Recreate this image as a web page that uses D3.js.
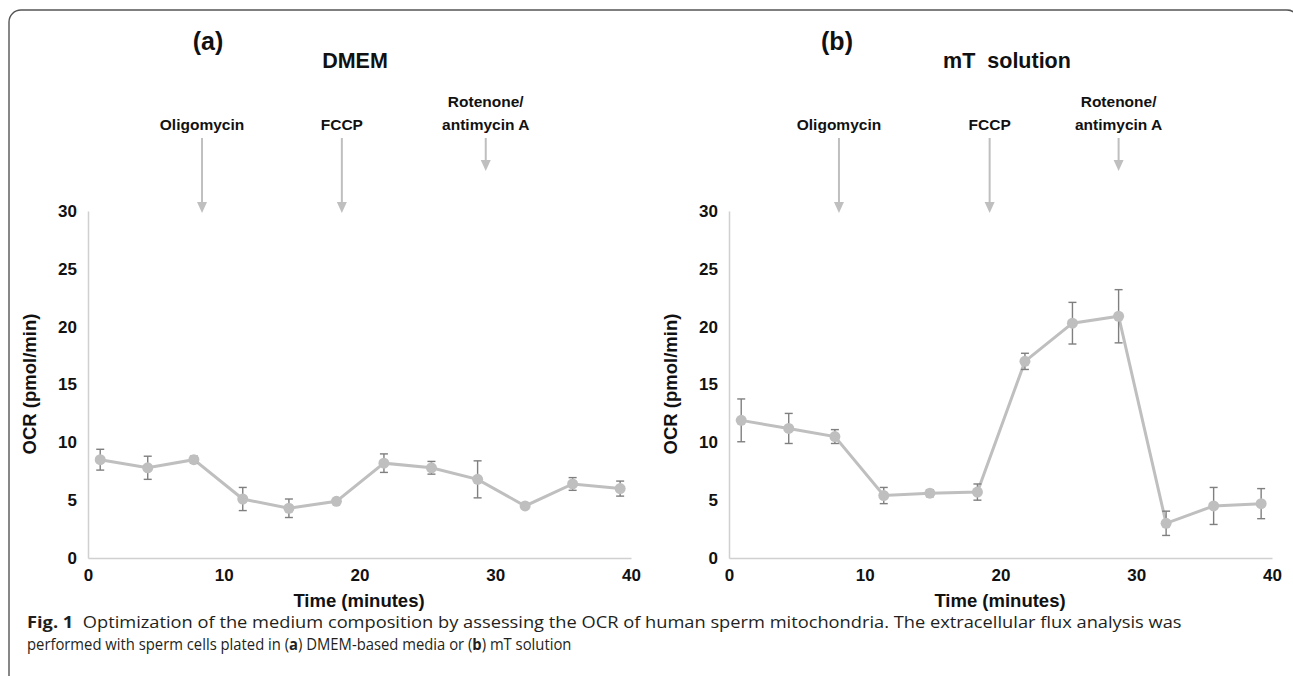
<!DOCTYPE html>
<html>
<head>
<meta charset="utf-8">
<script src="https://cdn.jsdelivr.net/npm/d3@7.9.0/dist/d3.min.js"></script>
<style>
  html, body { margin: 0; padding: 0; background: #fff; }
  svg { display: block; }
  .bold { font-family: "Liberation Sans", Arial, sans-serif; font-weight: bold; fill: #111; }
</style>
</head>
<body>
<svg id="fig" width="1293" height="676"></svg>
<script>
// time points (minutes), shared by both panels
const times = [0.9, 4.4, 7.8, 11.4, 14.8, 18.3, 21.8, 25.3, 28.7, 32.2, 35.7, 39.2];

// (a) DMEM
const dmemOcr = [8.5, 7.8, 8.5, 5.1, 4.3, 4.9, 8.2, 7.8, 6.8, 4.5, 6.4, 6.0];
const dmemErr = [0.9, 1.0, 0.3, 1.0, 0.8, 0.15, 0.8, 0.55, 1.6, 0.15, 0.55, 0.65];

// (b) mT solution
const mtOcr = [11.9, 11.2, 10.5, 5.4, 5.6, 5.7, 17.0, 20.3, 20.9, 3.0, 4.5, 4.7];
const mtErr = [1.85, 1.3, 0.6, 0.7, 0.3, 0.7, 0.7, 1.8, 2.3, 1.05, 1.6, 1.3];

// injections
const injLabels = [['Oligomycin'], ['FCCP'], ['Rotenone/', 'antimycin A']];
const dmemInj = [8.4, 18.7, 29.3];
const mtInj = [8.1, 19.2, 28.7];

const xTicks = [0, 10, 20, 30, 40];
const yTicks = [0, 5, 10, 15, 20, 25, 30];

const svg = d3.select('#fig');

// frame
svg.append('rect')
  .attr('x', 9).attr('y', 10)
  .attr('width', 1290).attr('height', 720)
  .attr('rx', 12)
  .attr('fill', 'none')
  .attr('stroke', '#555')
  .attr('stroke-width', 1.4);

function drawPanel(opt) {
  const x = d3.scaleLinear().domain([0, 40]).range([opt.left, opt.left + 543]);
  const y = d3.scaleLinear().domain([0, 30]).range([558, 211]);
  const g = svg.append('g');

  // axes
  const yAxis = g.append('g')
    .attr('transform', `translate(${opt.left},0)`)
    .call(d3.axisLeft(y).tickValues(yTicks).tickSize(0).tickPadding(11));
  const xAxis = g.append('g')
    .attr('transform', 'translate(0,558)')
    .call(d3.axisBottom(x).tickValues(xTicks).tickSize(0).tickPadding(9));
  [xAxis, yAxis].forEach((a) => {
    a.select('.domain').attr('stroke', '#d0d0d0').attr('stroke-width', 1.5);
    a.selectAll('text')
      .attr('class', 'bold')
      .attr('font-size', 17);
  });
  xAxis.selectAll('text').attr('dy', '0.85em');

  // axis titles
  g.append('text')
    .attr('class', 'bold')
    .attr('font-size', 18.5)
    .attr('text-anchor', 'middle')
    .attr('transform', `translate(${opt.left - 52},384) rotate(-90)`)
    .text('OCR (pmol/min)');
  g.append('text')
    .attr('class', 'bold')
    .attr('font-size', 18.5)
    .attr('text-anchor', 'middle')
    .attr('x', opt.left + 271)
    .attr('y', 607)
    .text('Time (minutes)');

  // panel letter + title
  g.append('text')
    .attr('class', 'bold')
    .attr('font-size', 25)
    .attr('text-anchor', 'middle')
    .attr('x', opt.letterX).attr('y', 50)
    .text(opt.letter);
  g.append('text')
    .attr('class', 'bold')
    .attr('font-size', 21.5)
    .attr('text-anchor', 'middle')
    .attr('x', opt.titleX).attr('y', 68)
    .attr('xml:space', 'preserve')
    .style('white-space', 'pre')
    .text(opt.title);

  // injection arrows
  opt.inj.forEach((t, i) => {
    const cx = x(t);
    const lines = injLabels[i];
    lines.forEach((s, j) => {
      g.append('text')
        .attr('class', 'bold')
        .attr('font-size', 15.5)
        .attr('text-anchor', 'middle')
        .attr('x', cx)
        .attr('y', 130 - (lines.length - 1 - j) * 23)
        .text(s);
    });
    const bottom = i === 2 ? 171 : 213;
    g.append('line')
      .attr('x1', cx).attr('x2', cx)
      .attr('y1', 138).attr('y2', bottom - 9)
      .attr('stroke', '#bfbfbf').attr('stroke-width', 2);
    g.append('path')
      .attr('d', `M${cx - 5},${bottom - 11}L${cx + 5},${bottom - 11}L${cx},${bottom}Z`)
      .attr('fill', '#bfbfbf');
  });

  const pts = times.map((t, i) => ({ t, v: opt.values[i], e: opt.errs[i] }));

  // data line
  g.append('path')
    .datum(pts)
    .attr('fill', 'none')
    .attr('stroke', '#bfbfbf')
    .attr('stroke-width', 3)
    .attr('d', d3.line().x((d) => x(d.t)).y((d) => y(d.v)));

  // error bars
  const eb = g.append('g').attr('stroke', '#7f7f7f').attr('stroke-width', 1.4);
  pts.forEach((d) => {
    const cx = x(d.t);
    const top = y(d.v + d.e);
    const bot = y(d.v - d.e);
    eb.append('line').attr('x1', cx).attr('x2', cx).attr('y1', top).attr('y2', bot);
    eb.append('line').attr('x1', cx - 4).attr('x2', cx + 4).attr('y1', top).attr('y2', top);
    eb.append('line').attr('x1', cx - 4).attr('x2', cx + 4).attr('y1', bot).attr('y2', bot);
  });

  // markers
  g.selectAll('circle.pt')
    .data(pts)
    .join('circle')
    .attr('class', 'pt')
    .attr('cx', (d) => x(d.t))
    .attr('cy', (d) => y(d.v))
    .attr('r', 5.5)
    .attr('fill', '#bfbfbf');
}

drawPanel({ left: 88, values: dmemOcr, errs: dmemErr, inj: dmemInj,
  letter: '(a)', letterX: 208, title: 'DMEM', titleX: 355 });
drawPanel({ left: 729, values: mtOcr, errs: mtErr, inj: mtInj,
  letter: '(b)', letterX: 837, title: 'mT  solution', titleX: 1007 });

// caption: condensed by a horizontal scale so each line ends where the reference does
const cap = svg.append('g')
  .attr('font-family', '"Open Sans", "Noto Sans", sans-serif')
  .attr('font-size', 16)
  .attr('fill', '#231f20');

function captionLine(y, width, parts) {
  const t = cap.append('text')
    .attr('x', 0).attr('y', 0)
    .attr('xml:space', 'preserve')
    .style('white-space', 'pre');
  parts.forEach(([s, b]) => {
    t.append('tspan').attr('font-weight', b ? 'bold' : null).text(s);
  });
  const w = t.node().getComputedTextLength();
  t.attr('transform', `translate(27,${y}) scale(${width / w},1)`);
}

captionLine(628, 1156, [
  ['Fig. 1', true],
  ['  Optimization of the medium composition by assessing the OCR of human sperm mitochondria. The extracellular flux analysis was', false]
]);
captionLine(650, 545, [
  ['performed with sperm cells plated in (', false],
  ['a', true],
  [') DMEM-based media or (', false],
  ['b', true],
  [') mT solution', false]
]);
</script>
</body>
</html>
